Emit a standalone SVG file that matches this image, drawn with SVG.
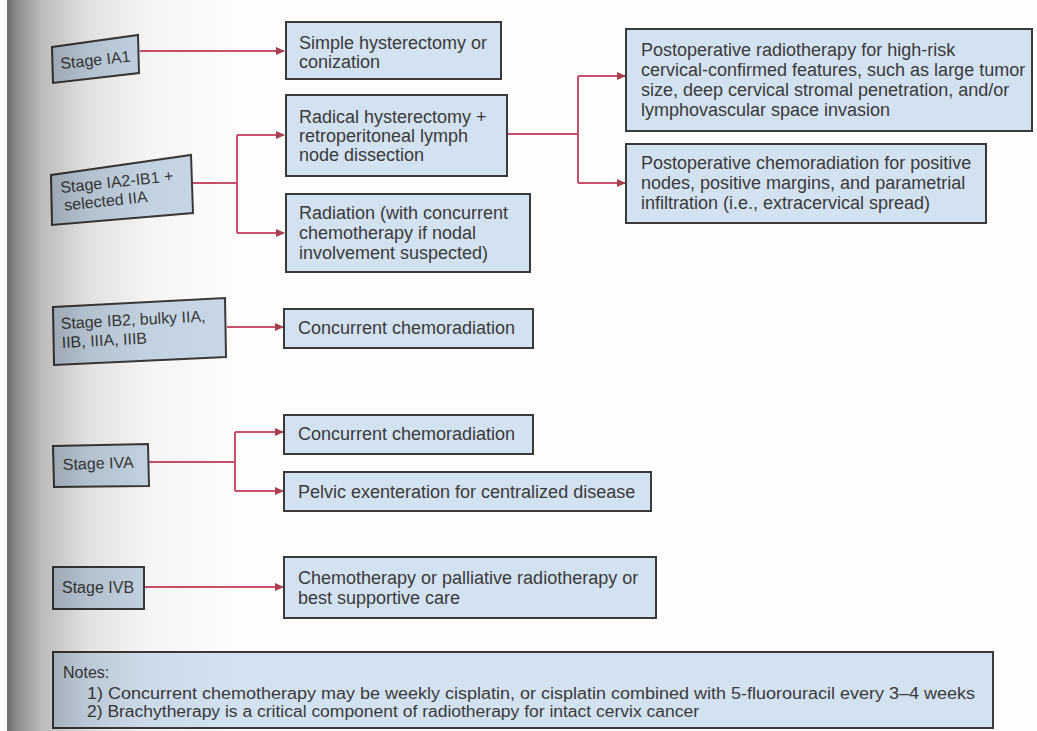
<svg xmlns="http://www.w3.org/2000/svg" width="1037" height="731" viewBox="0 0 1037 731">
<defs>
<style>
.box{fill:#d3e2f1;stroke:#3a3a3a;stroke-width:2}
.stage{fill:#c9d9e8;stroke:#3a3a3a;stroke-width:2}
.t{font-family:"Liberation Sans",Arial,sans-serif;font-size:18px;fill:#3a3a3a}
.st{font-family:"Liberation Sans",Arial,sans-serif;font-size:16px;fill:#3a3a3a}
.n{font-family:"Liberation Sans",Arial,sans-serif;font-size:16px;fill:#3a3a3a}
.c{fill:none;stroke:#c9506c;stroke-width:2}
</style>
<marker id="ah" markerWidth="9" markerHeight="8" refX="8" refY="4" orient="auto" markerUnits="userSpaceOnUse">
<path d="M0,0 L9,4 L0,8 z" fill="#a8404f"/>
</marker>
<linearGradient id="shade" gradientUnits="userSpaceOnUse" x1="7" y1="0" x2="240" y2="0">
<stop offset="0" stop-color="#000" stop-opacity="0.58"/>
<stop offset="0.04" stop-color="#000" stop-opacity="0.45"/>
<stop offset="0.15" stop-color="#000" stop-opacity="0.26"/>
<stop offset="0.35" stop-color="#000" stop-opacity="0.11"/>
<stop offset="0.6" stop-color="#000" stop-opacity="0.035"/>
<stop offset="1" stop-color="#000" stop-opacity="0"/>
</linearGradient>
</defs>
<rect x="0" y="0" width="1037" height="731" fill="#fdfdfd"/>

<g id="connectors">
<path class="c" d="M140,51 H284" marker-end="url(#ah)"/>
<path class="c" d="M193,183 H237"/>
<path class="c" d="M237,135 V233"/>
<path class="c" d="M237,135 H284" marker-end="url(#ah)"/>
<path class="c" d="M237,233 H284" marker-end="url(#ah)"/>
<path class="c" d="M507,134 H578"/>
<path class="c" d="M578,76 V183"/>
<path class="c" d="M578,76 H625" marker-end="url(#ah)"/>
<path class="c" d="M578,183 H625" marker-end="url(#ah)"/>
<path class="c" d="M227,327 H283" marker-end="url(#ah)"/>
<path class="c" d="M149,462 H235"/>
<path class="c" d="M235,432 V491"/>
<path class="c" d="M235,432 H283" marker-end="url(#ah)"/>
<path class="c" d="M235,491 H283" marker-end="url(#ah)"/>
<path class="c" d="M144,587 H283" marker-end="url(#ah)"/>
</g>

<g id="stage-ia1">
<polygon class="stage" points="52,47 138,35 139,73 53,83"/>
<text class="st" x="61" y="69" transform="rotate(-6 61 69)">Stage IA1</text>
</g>
<g id="simple-hysterectomy">
<rect class="box" x="286" y="22" width="215" height="57"/>
<text class="t" x="299" y="49">Simple hysterectomy or</text>
<text class="t" x="299" y="68">conization</text>
</g>

<g id="stage-ia2">
<polygon class="stage" points="51,175 191,155 193,213 52,225"/>
<text class="st" x="61" y="193" transform="rotate(-6 61 193)">Stage IA2-IB1 +</text>
<text class="st" x="63" y="211" transform="rotate(-6 61 193)">selected IIA</text>
</g>
<g id="radical-hysterectomy">
<rect class="box" x="286" y="95" width="221" height="81"/>
<text class="t" x="299" y="123">Radical hysterectomy +</text>
<text class="t" x="299" y="142">retroperitoneal lymph</text>
<text class="t" x="299" y="161">node dissection</text>
</g>
<g id="radiation">
<rect class="box" x="286" y="194" width="244" height="78"/>
<text class="t" x="299" y="219">Radiation (with concurrent</text>
<text class="t" x="299" y="239">chemotherapy if nodal</text>
<text class="t" x="299" y="259">involvement suspected)</text>
</g>
<g id="postop-radiotherapy">
<rect class="box" x="626" y="29" width="406" height="102"/>
<text class="t" x="641" y="56">Postoperative radiotherapy for high-risk</text>
<text class="t" x="641" y="76">cervical-confirmed features, such as large tumor</text>
<text class="t" x="641" y="96">size, deep cervical stromal penetration, and/or</text>
<text class="t" x="641" y="116">lymphovascular space invasion</text>
</g>
<g id="postop-chemoradiation">
<rect class="box" x="626" y="144" width="360" height="79"/>
<text class="t" x="641" y="169">Postoperative chemoradiation for positive</text>
<text class="t" x="641" y="189">nodes, positive margins, and parametrial</text>
<text class="t" x="641" y="209">infiltration (i.e., extracervical spread)</text>
</g>

<g id="stage-ib2">
<polygon class="stage" points="53,307 225,298 226,357 54,365"/>
<text class="st" x="61" y="329" transform="rotate(-3 61 329)">Stage IB2, bulky IIA,</text>
<text class="st" x="61" y="348" transform="rotate(-3 61 329)">IIB, IIIA, IIIB</text>
</g>
<g id="concurrent-1">
<rect class="box" x="284" y="309" width="249" height="39"/>
<text class="t" x="298" y="334">Concurrent chemoradiation</text>
</g>

<g id="stage-iva">
<polygon class="stage" points="53,446 148,444 149,486 54,487"/>
<text class="st" x="63" y="470" transform="rotate(-2 63 470)">Stage IVA</text>
</g>
<g id="concurrent-2">
<rect class="box" x="284" y="415" width="249" height="39"/>
<text class="t" x="298" y="440">Concurrent chemoradiation</text>
</g>
<g id="pelvic-exenteration">
<rect class="box" x="284" y="472" width="367" height="39"/>
<text class="t" x="298" y="498">Pelvic exenteration for centralized disease</text>
</g>

<g id="stage-ivb">
<polygon class="stage" points="53,567 144,567 144,609 53,609"/>
<text class="st" x="62" y="593">Stage IVB</text>
</g>
<g id="chemotherapy">
<rect class="box" x="284" y="557" width="372" height="61"/>
<text class="t" x="298" y="584">Chemotherapy or palliative radiotherapy or</text>
<text class="t" x="298" y="604">best supportive care</text>
</g>

<g id="notes">
<rect class="box" x="53" y="652" width="940" height="76"/>
<text class="n" x="63" y="678" font-size="14">Notes:</text>
<text class="n" x="87" y="699" textLength="888" lengthAdjust="spacingAndGlyphs">1) Concurrent chemotherapy may be weekly cisplatin, or cisplatin combined with 5-fluorouracil every 3–4 weeks</text>
<text class="n" x="87" y="717" textLength="612" lengthAdjust="spacingAndGlyphs">2) Brachytherapy is a critical component of radiotherapy for intact cervix cancer</text>
</g>

<rect x="7" y="0" width="240" height="731" fill="url(#shade)" pointer-events="none"/>
</svg>
